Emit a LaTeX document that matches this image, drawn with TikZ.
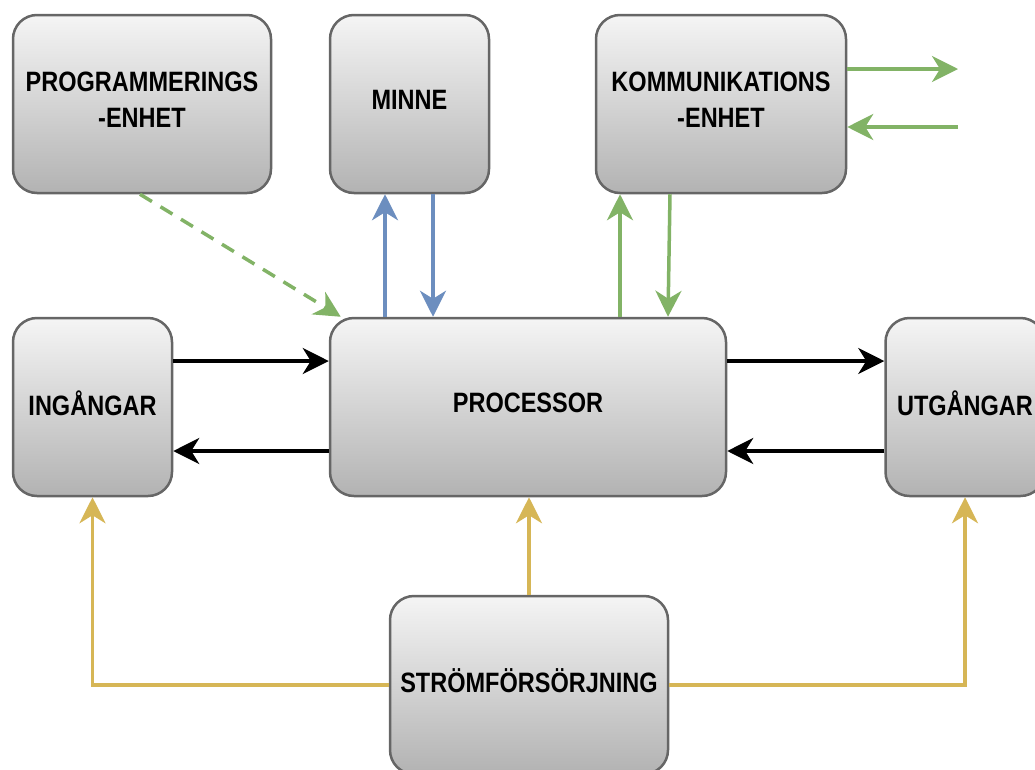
\documentclass[tikz,border=0pt]{standalone}
\usepackage{fontspec}
\newfontfamily\boxfont{Liberation Sans}[FakeStretch=0.84]
\usepackage{tikz}
\usetikzlibrary{calc, positioning, arrows.meta}

\definecolor{drawBlue}{HTML}{6C8EBF}
\definecolor{drawGreen}{HTML}{82B366}
\definecolor{drawYellow}{HTML}{D6B656}
\definecolor{boxLine}{HTML}{666666}

\begin{document}
\begin{tikzpicture}[x=1pt, y=-1pt,
    unit/.style={draw=boxLine, line width=2.5pt, rounded corners=24pt,
      top color=gray!8, bottom color=gray!60, minimum height=178pt,
      align=center, inner sep=0pt, text depth=8pt,
      font=\boxfont\bfseries\fontsize{28}{36}\selectfont},
    link/.style={line width=3.5pt, -{Stealth[length=26pt, width=26pt, inset=8pt]}},
    memLink/.style={link, drawBlue},
    comLink/.style={link, drawGreen},
    pwrLink/.style={link, drawYellow},
  ]
    \useasboundingbox (0,0) rectangle (1035,769);
    \clip (0,0) rectangle (1035,769);

    % blocks
    \node[unit, minimum width=258pt] (prog) at (142,104) {PROGRAMMERINGS\\-ENHET};
    \node[unit, minimum width=159pt] (minne) at (409.5,104) {MINNE};
    \node[unit, minimum width=250pt] (komm) at (721,104) {KOMMUNIKATIONS\\-ENHET};
    \node[unit, minimum width=159pt] (ing) at (92.5,407) {INGÅNGAR};
    \node[unit, minimum width=396pt] (proc) at (528,407) {PROCESSOR};
    \node[unit, minimum width=159pt] (utg) at (965,407) {UTGÅNGAR};
    \node[unit, minimum width=278pt] (strom) at (529,685) {STRÖMFÖRSÖRJNING};

    \coordinate (txOut) at (958,69);
    \coordinate (rxIn) at (958,127);

    % programming link
    \draw[comLink, dash pattern=on 14pt off 10pt]
      ([xshift=-2pt]prog.south) -- ([xshift=12pt]proc.north west);

    % memory
    \draw[memLink] ([xshift=-24.5pt]minne.south |- proc.north) -- ([xshift=-24.5pt]minne.south);
    \draw[memLink] ([xshift=23.5pt]minne.south) -- ([xshift=23.5pt]minne.south |- proc.north);

    % communication
    \draw[comLink] ([xshift=-101pt]komm.south |- proc.north) -- ([xshift=-101pt]komm.south);
    \draw[comLink] ([xshift=-51pt]komm.south) -- ([xshift=-53pt]komm.south |- proc.north);
    \draw[comLink] ([yshift=35pt]komm.east) -- (txOut);
    \draw[comLink] (rxIn) -- ([yshift=-23pt]komm.east);

    % inputs and outputs
    \draw[link] ([yshift=46pt]ing.east) -- ([yshift=46pt]ing.east -| proc.west);
    \draw[link] ([yshift=-44pt]proc.west) -- ([yshift=-44pt]proc.west -| ing.east);
    \draw[link] ([yshift=46pt]proc.east) -- ([yshift=46pt]proc.east -| utg.west);
    \draw[link] ([yshift=-44pt]utg.west) -- ([yshift=-44pt]utg.west -| proc.east);

    % power supply
    \draw[pwrLink] (strom.west) -| (ing.south);
    \draw[pwrLink] (strom.north) -- (strom.north |- proc.south);
    \draw[pwrLink] (strom.east) -| (utg.south);
\end{tikzpicture}
\end{document}
